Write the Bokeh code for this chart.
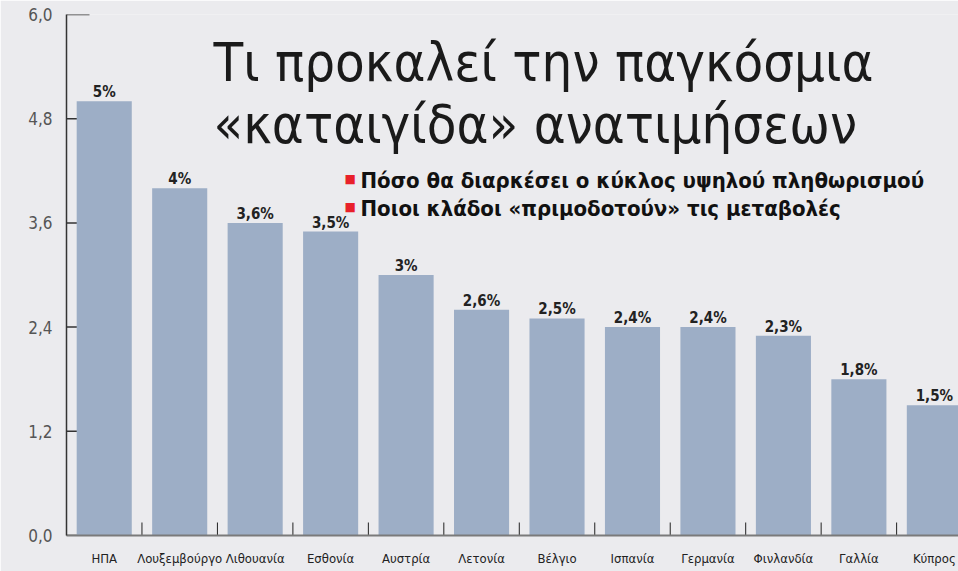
from bokeh.plotting import figure
from bokeh.models import FixedTicker, Label, ColumnDataSource, Range1d
from bokeh.embed import file_html
from bokeh.resources import INLINE
from bokeh.core.properties import value

countries = ["ΗΠΑ", "Λουξεμβούργο", "Λιθουανία", "Εσθονία", "Αυστρία", "Λετονία",
             "Βέλγιο", "Ισπανία", "Γερμανία", "Φινλανδία", "Γαλλία", "Κύπρος"]
values = [5.0, 4.0, 3.6, 3.5, 3.0, 2.6, 2.5, 2.4, 2.4, 2.3, 1.8, 1.5]
value_labels = ["5%", "4%", "3,6%", "3,5%", "3%", "2,6%", "2,5%", "2,4%", "2,4%", "2,3%", "1,8%", "1,5%"]
y_ticks = [0.0, 1.2, 2.4, 3.6, 4.8, 6.0]
y_tick_labels = ["0,0", "1,2", "2,4", "3,6", "4,8", "6,0"]
title_lines = ["Τι προκαλεί την παγκόσμια", "«καταιγίδα» ανατιμήσεων"]
subtitle_lines = ["Πόσο θα διαρκέσει ο κύκλος υψηλού πληθωρισμού",
                  "Ποιοι κλάδοι «πριμοδοτούν» τις μεταβολές"]

FONT = "DejaVu Sans Condensed"
BG = "#EBEBEE"
BAR = "#9DAEC6"

W, H = 958, 571
L, R, T, B = 66, 0, 14, 36
X0, X1 = -0.5, 11.32
Y0, Y1 = 0.0, 6.0

def dx(px):  # canvas pixel x -> data x
    return X0 + (px - L) * (X1 - X0) / (W - L - R)

def dy(py):  # canvas pixel y (from top) -> data y
    return Y0 + (H - B - py) * (Y1 - Y0) / (H - T - B)

PXY = (Y1 - Y0) / (H - T - B)  # data units per pixel in y
PXX = (X1 - X0) / (W - L - R)

xs = list(range(len(countries)))
src = ColumnDataSource(dict(x=xs, top=values, lab=value_labels,
                            ly=[v + 9 * PXY for v in values]))

p = figure(width=W, height=H, output_backend="svg", toolbar_location=None,
           x_range=Range1d(X0, X1), y_range=Range1d(Y0, Y1),
           min_border_left=L, min_border_right=R, min_border_top=T, min_border_bottom=B)
p.background_fill_color = BG
p.border_fill_color = BG
p.outline_line_color = None
p.grid.visible = False

# y tick marks drawn under the bars
p.segment(x0=[X0] * len(y_ticks), x1=[X0 + 23 * PXX] * len(y_ticks), y0=y_ticks, y1=y_ticks,
          line_color="#333333", line_width=1.5)

p.vbar(x="x", top="top", width=0.73, bottom=0, source=src, color=BAR, line_color=None)

# value labels
p.text(x="x", y="ly", text="lab", source=src, text_align="center",
       text_baseline="alphabetic", text_font=value(FONT),
       text_font_style="bold", text_font_size="15px", text_color="#222222")

# category separator ticks on x baseline
sep_x = [i + 0.5 for i in xs[:-1]]
p.segment(x0=sep_x, x1=sep_x, y0=[0] * len(sep_x), y1=[13 * PXY] * len(sep_x),
          line_color="#222222", line_width=1)

# y axis
ya = p.yaxis[0]
ya.ticker = FixedTicker(ticks=y_ticks)
ya.major_label_overrides = {t: l for t, l in zip(y_ticks, y_tick_labels)}
ya.major_tick_in = 0
ya.major_tick_out = 0
ya.minor_tick_line_color = None
ya.axis_line_color = "#333333"
ya.axis_line_width = 1.5
ya.major_label_text_font = FONT
ya.major_label_text_font_size = "17px"
ya.major_label_text_color = "#555555"
ya.major_label_text_baseline = "top"
ya.major_label_standoff = 14

# x axis
xa = p.xaxis[0]
xa.ticker = FixedTicker(ticks=xs)
xa.major_label_overrides = {i: c for i, c in zip(xs, countries)}
xa.major_tick_in = 0
xa.major_tick_out = 0
xa.minor_tick_line_color = None
xa.axis_line_color = "#7a7a7a"
xa.axis_line_width = 2
xa.major_label_text_font = FONT
xa.major_label_text_font_size = "13px"
xa.major_label_text_color = "#222222"
xa.major_label_standoff = 15

# titles
for line, py in zip(title_lines, [62, 124]):
    p.add_layout(Label(x=dx(213), y=dy(py), text=line,
                       text_font=FONT, text_font_size="54px", text_color="#1a1a1a",
                       text_baseline="alphabetic"))

for line, py in zip(subtitle_lines, [180, 208]):
    p.add_layout(Label(x=dx(344), y=dy(py - 2), text="■",
                       text_font="DejaVu Sans", text_font_size="12px", text_color="#E8202A",
                       text_baseline="alphabetic"))
    p.add_layout(Label(x=dx(360), y=dy(py), text=line,
                       text_font=FONT, text_font_style="bold", text_font_size="22px",
                       text_color="#111111", text_baseline="alphabetic"))

open("out.html", "w").write(file_html(p, INLINE))
